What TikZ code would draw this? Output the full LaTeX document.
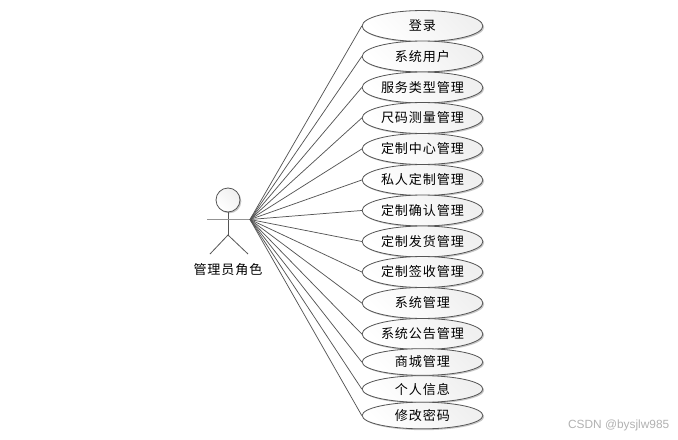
\documentclass[tikz,border=0pt]{standalone}
\usepackage{fontspec}
\setmainfont{Liberation Sans}
\newfontfamily\cjk[LetterSpace=7]{Noto Sans CJK SC}
\usetikzlibrary{shapes.geometric,shadows}
\definecolor{edgecol}{HTML}{555555}
\tikzset{
  usecase/.style={ellipse,draw=edgecol,line width=0.6pt,inner sep=0pt,minimum width=90.5pt,
    left color=white,right color=white!94!black,shading angle=135,
    drop shadow={shadow xshift=1pt,shadow yshift=-1pt,fill=black,opacity=0.22},
    font=\cjk\fontsize{9.8pt}{11pt}\selectfont,text=black},
  tall/.style={usecase,minimum height=23.2pt},
  short/.style={usecase,minimum height=20pt},
  limb/.style={draw=edgecol,line width=0.6pt},
  link/.style={draw=edgecol,line width=0.55pt},
}
\begin{document}
\begin{tikzpicture}[x=0.75pt,y=-0.75pt]
\useasboundingbox (0,0) rectangle (678,439);
\fill[white] (0,0) rectangle (678,439);
% use cases
\node[tall]  (u1)  at (422.5,26)  {登录};
\node[tall]  (u2)  at (422.5,56.5)  {系统用户};
\node[tall]  (u3)  at (422.5,87.5)  {服务类型管理};
\node[tall]  (u4)  at (422.5,118) {尺码测量管理};
\node[tall]  (u5)  at (422.5,149) {定制中心管理};
\node[tall]  (u6)  at (422.5,180) {私人定制管理};
\node[tall]  (u7)  at (422.5,210.5) {定制确认管理};
\node[tall]  (u8)  at (422.5,241.5) {定制发货管理};
\node[tall]  (u9)  at (422.5,272) {定制签收管理};
\node[tall]  (u10) at (422.5,303) {系统管理};
\node[tall]  (u11) at (422.5,334) {系统公告管理};
\node[short] (u12) at (422.5,362) {商城管理};
\node[short] (u13) at (422.5,389) {个人信息};
\node[short] (u14) at (422.5,415.5) {修改密码};
% actor
\node[circle,draw=edgecol,line width=0.6pt,inner sep=0pt,minimum size=18pt,
  left color=white,right color=white!94!black,shading angle=135,
  drop shadow={shadow xshift=1pt,shadow yshift=-1pt,fill=black,opacity=0.22}] (head) at (228,200) {};
\coordinate (hip) at (228,235);
\coordinate (armL) at (207,219.5);
\coordinate (hand) at (250,219.5);
\coordinate (footL) at (210,254);
\coordinate (footR) at (248,254);
\draw[limb] (head.south) -- (hip);
\draw[limb] (footL) -- (hip) -- (footR);
\draw[draw=gray!85,line width=1.1pt] (armL) -- (hand);
\node[font=\cjk\fontsize{9.8pt}{11pt}\selectfont,text=black] (actor) at (228,270) {管理员角色};
% connectors
\foreach \i in {1,...,14} \draw[link] (hand) -- (u\i.west);
% watermark
\node[font=\fontsize{8.9pt}{10pt}\selectfont,text=black!30,anchor=east,inner sep=0pt] (mark) at (669.5,425) {CSDN @bysjlw985};
\end{tikzpicture}
\end{document}
